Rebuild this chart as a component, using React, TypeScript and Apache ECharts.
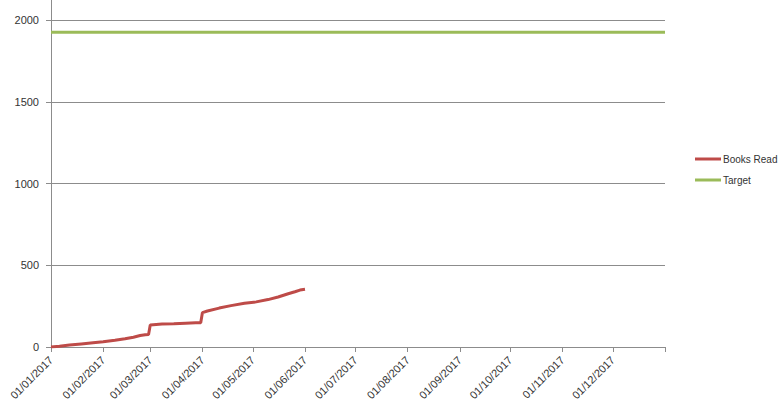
import React, { useEffect, useRef } from "react";
import * as echarts from "echarts";

const bookDates = [
  "2017-01-01", "2017-01-06", "2017-01-12", "2017-01-19", "2017-01-26",
  "2017-02-01", "2017-02-08", "2017-02-14", "2017-02-19", "2017-02-23",
  "2017-02-26", "2017-02-28", "2017-03-01", "2017-03-08", "2017-03-15",
  "2017-03-22", "2017-03-28", "2017-03-31", "2017-04-01", "2017-04-04",
  "2017-04-11", "2017-04-18", "2017-04-26", "2017-05-03", "2017-05-10",
  "2017-05-16", "2017-05-22", "2017-05-26", "2017-05-29", "2017-06-01",
];
const booksRead = [
  0, 5, 12, 19, 26,
  32, 41, 50, 60, 70,
  75, 77, 135, 140, 142,
  146, 148, 149, 210, 220,
  238, 253, 267, 276, 290,
  306, 326, 338, 348, 353,
];
const targetDates = ["2017-01-01", "2018-01-01"];
const targetValues = [1925, 1925];
const monthTicks = [
  "2017-01-01", "2017-02-01", "2017-03-01", "2017-04-01", "2017-05-01",
  "2017-06-01", "2017-07-01", "2017-08-01", "2017-09-01", "2017-10-01",
  "2017-11-01", "2017-12-01",
];
const axisEnd = "2018-01-01";
const yTicks = [0, 500, 1000, 1500, 2000, 2500];

const ts = (s: string) => {
  const [y, m, d] = s.split("-").map(Number);
  return Date.UTC(y, m - 1, d);
};
const pad = (n: number) => (n < 10 ? "0" + n : "" + n);
const fmt = (v: number) => {
  const d = new Date(v);
  return `${pad(d.getUTCDate())}/${pad(d.getUTCMonth() + 1)}/${d.getUTCFullYear()}`;
};

export default function App() {
  const ref = useRef<HTMLDivElement>(null);
  useEffect(() => {
    if (!ref.current) return;
    const chart = echarts.init(ref.current, null, { renderer: "svg" });
    const font = "'Liberation Sans', Arial, sans-serif";
    const gridColor = "#8c8c8c";
    chart.setOption({
      animation: false,
      useUTC: true,
      backgroundColor: "#ffffff",
      grid: {
        left: 51,
        right: 115,
        top: -61.75,
        bottom: 64,
        containLabel: false,
        outerBoundsMode: "none",
      },
      legend: {
        orient: "vertical",
        left: 690,
        top: 149,
        itemWidth: 26,
        itemHeight: 3,
        itemGap: 11,
        icon: "rect",
        textStyle: { fontFamily: font, fontSize: 10, color: "#333333", padding: [0, 0, 0, -3] },
        data: ["Books Read", "Target"],
      },
      xAxis: {
        type: "value",
        min: ts(monthTicks[0]),
        max: ts(axisEnd),
        axisLine: { show: true, lineStyle: { color: gridColor, width: 1 } },
        axisTick: {
          show: true,
          length: 5,
          lineStyle: { color: gridColor },
          customValues: [...monthTicks, axisEnd].map(ts),
        },
        axisLabel: {
          rotate: 45,
          margin: 11,
          fontFamily: font,
          fontSize: 11,
          color: "#333333",
          customValues: monthTicks.map(ts),
          formatter: (v: number) => fmt(v),
        },
        splitLine: { show: false },
      },
      yAxis: {
        type: "value",
        min: yTicks[0],
        max: yTicks[yTicks.length - 1],
        interval: 500,
        axisLine: { show: true, lineStyle: { color: gridColor, width: 1 } },
        axisTick: { show: true, length: 5, lineStyle: { color: gridColor } },
        axisLabel: {
          margin: 12,
          fontFamily: font,
          fontSize: 11,
          color: "#333333",
          showMaxLabel: false,
          formatter: (v: number) => String(v),
        },
        splitLine: { show: true, lineStyle: { color: gridColor, width: 1 } },
      },
      series: [
        {
          name: "Books Read",
          type: "line",
          showSymbol: false,
          symbol: "none",
          color: "#BE4B48",
          lineStyle: { width: 3, color: "#BE4B48" },
          data: bookDates.map((d, i) => [ts(d), booksRead[i]]),
        },
        {
          name: "Target",
          type: "line",
          showSymbol: false,
          symbol: "none",
          color: "#9BBB59",
          lineStyle: { width: 3, color: "#9BBB59" },
          data: targetDates.map((d, i) => [ts(d), targetValues[i]]),
        },
      ],
    });
    return () => chart.dispose();
  }, []);
  return (
    <div
      ref={ref}
      style={{ position: "fixed", left: 0, top: 0, width: 780, height: 411 }}
    />
  );
}
